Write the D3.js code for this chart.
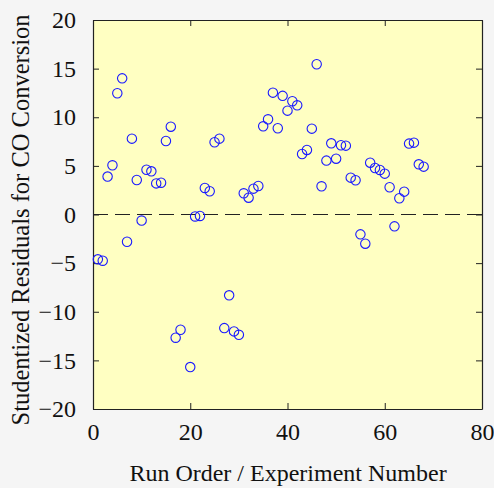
<!DOCTYPE html>
<html>
<head>
<meta charset="utf-8">
<script src="https://cdn.jsdelivr.net/npm/d3@7"></script>
<style>
  body { margin: 0; background: #f5f5f5; }
  svg { display: block; }
  svg text { font-family: "Liberation Serif", "Times New Roman", serif; }
</style>
</head>
<body>
<div id="container"></div>
<script>
/* DATA */
const runOrder = [1, 2, 3, 4, 5, 6, 7, 8, 9, 10, 11, 12, 13, 14, 15, 16, 17, 18, 20,
  21, 22, 23, 24, 25, 26, 27, 28, 29, 30, 31, 32, 33, 34, 35, 36, 37, 38, 39, 40,
  41, 42, 43, 44, 45, 46, 47, 48, 49, 50, 51, 52, 53, 54, 55, 56, 57, 58, 59, 60,
  61, 62, 63, 64, 65, 66, 67, 68]
const residuals = [-4.61, -4.75, 3.9, 5.06, 12.47, 14.0, -2.8, 7.8, 3.55, -0.62, 4.6, 4.44, 3.2, 3.27, 7.56, 9.03, -12.67, -11.85, -15.69,
  -0.2, -0.15, 2.73, 2.39, 7.43, 7.8, -11.68, -8.31, -12.02, -12.37, 2.18, 1.73, 2.66, 2.93, 9.07, 9.79, 12.53, 8.87, 12.2, 10.68,
  11.65, 11.23, 6.22, 6.64, 8.83, 15.45, 2.9, 5.54, 7.32, 5.74, 7.12, 7.08, 3.79, 3.52, -2.04, -3.0, 5.33, 4.78, 4.58, 4.2,
  2.8, -1.22, 1.67, 2.35, 7.29, 7.39, 5.16, 4.92]
const xTicks = [0, 20, 40, 60, 80]
const yTicks = [-20, -15, -10, -5, 0, 5, 10, 15, 20]

/* CONSTANTS */
const width = 494,
  height = 488,
  margin = { top: 20, bottom: 79, left: 93, right: 12 },
  radius = 4.7

const data = runOrder.map((r, i) => ({ run: r, res: residuals[i] }))

/* SCALES */
const xScale = d3.scaleLinear()
  .domain([0, 80])
  .range([margin.left, width - margin.right])

const yScale = d3.scaleLinear()
  .domain([-20, 20])
  .range([height - margin.bottom, margin.top])

/* SVG */
const svg = d3.select("#container")
  .append("svg")
  .attr("width", width)
  .attr("height", height)

svg.append("rect")
  .attr("width", width)
  .attr("height", height)
  .attr("fill", "#f5f5f5")

svg.append("rect")
  .attr("x", margin.left)
  .attr("y", margin.top)
  .attr("width", width - margin.left - margin.right)
  .attr("height", height - margin.top - margin.bottom)
  .attr("fill", "#ffffc2")

// axes, ticks inward on all sides
const font = "Liberation Serif, Times New Roman, serif"
const tickLen = 6

const xBottom = svg.append("g")
  .attr("transform", `translate(0, ${height - margin.bottom})`)
  .call(d3.axisBottom(xScale).tickValues(xTicks).tickSizeInner(-tickLen).tickSizeOuter(0).tickPadding(14))
const xTop = svg.append("g")
  .attr("transform", `translate(0, ${margin.top})`)
  .call(d3.axisTop(xScale).tickValues(xTicks).tickSizeInner(-tickLen).tickSizeOuter(0).tickFormat(""))
const yLeft = svg.append("g")
  .attr("transform", `translate(${margin.left}, 0)`)
  .call(d3.axisLeft(yScale).tickValues(yTicks).tickSizeInner(-tickLen).tickSizeOuter(0).tickPadding(17))
const yRight = svg.append("g")
  .attr("transform", `translate(${width - margin.right}, 0)`)
  .call(d3.axisRight(yScale).tickValues(yTicks).tickSizeInner(-tickLen).tickSizeOuter(0).tickFormat(""))

;[xBottom, xTop, yLeft, yRight].forEach(g => {
  g.attr("font-family", font).attr("font-size", 24)
  g.select(".domain").attr("stroke", "#222").attr("stroke-width", 1.2)
  g.selectAll(".tick line").attr("stroke", "#222")
  g.selectAll("text").attr("fill", "#111")
})
xBottom.selectAll("text").attr("dy", "0.71em")

// zero reference line
svg.append("line")
  .attr("x1", xScale(0))
  .attr("x2", xScale(80))
  .attr("y1", yScale(0))
  .attr("y2", yScale(0))
  .attr("stroke", "#222")
  .attr("stroke-width", 1.2)
  .attr("stroke-dasharray", "15,7")

// points
svg.selectAll(".dot")
  .data(data)
  .join("circle")
  .attr("class", "dot")
  .attr("cx", d => xScale(d.run))
  .attr("cy", d => yScale(d.res))
  .attr("r", radius)
  .attr("fill", "none")
  .attr("stroke", "#1a1aff")
  .attr("stroke-width", 1.1)

// titles
svg.append("text")
  .attr("x", 288)
  .attr("y", 481)
  .attr("text-anchor", "middle")
  .attr("font-size", 24)
  .attr("fill", "#111")
  .text("Run Order / Experiment Number")

svg.append("text")
  .attr("transform", `translate(29, 220) rotate(-90)`)
  .attr("text-anchor", "middle")
  .attr("font-size", 24.5)
  .attr("fill", "#111")
  .text("Studentized Residuals for CO Conversion")
</script>
</body>
</html>
